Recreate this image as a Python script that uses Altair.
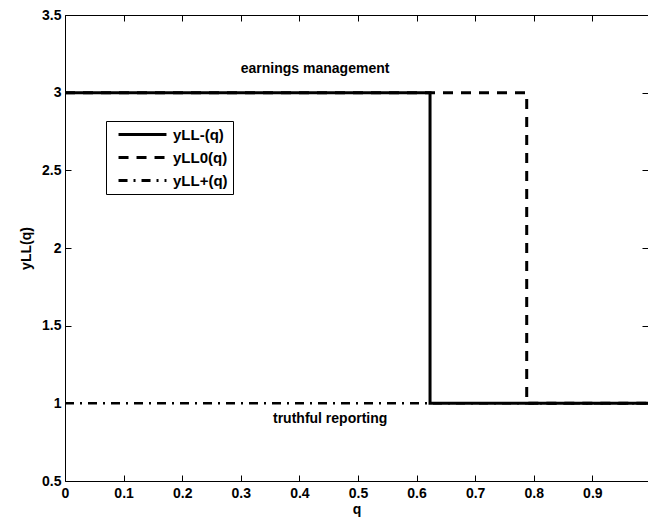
import altair as alt
import pandas as pd

# ---- data ----
series_names = ["yLL-(q)", "yLL0(q)", "yLL+(q)"]
q_minus = [0.0, 0.623, 0.623, 1.0]
y_minus = [3.0, 3.0, 1.0, 1.0]
q_zero = [0.0, 0.788, 0.788, 1.0]
y_zero = [3.0, 3.0, 1.0, 1.0]
q_plus = [0.0, 1.0]
y_plus = [1.0, 1.0]

ann_text = ["earnings management", "truthful reporting"]
ann_q = [0.3, 0.355]
ann_y = [3.15, 0.9]

x_ticks = [0, 0.1, 0.2, 0.3, 0.4, 0.5, 0.6, 0.7, 0.8, 0.9]
y_ticks = [0.5, 1, 1.5, 2, 2.5, 3, 3.5]

dash_styles = [[1, 0], [10, 8], [9, 6, 2, 6]]

# ---- layout ----
W, H = 583, 466
PAD = {"left": 65, "top": 15, "right": 0, "bottom": 36}
X_MAX = 0.995
FONT = "Liberation Sans"
TICK = 6


def frame(qs, ys, name):
    return pd.DataFrame({"q": qs, "y": ys, "series": name, "i": range(len(qs))})


df_minus = frame(q_minus, y_minus, series_names[0])
df_zero = frame(q_zero, y_zero, series_names[1])
df_plus = frame(q_plus, y_plus, series_names[2])
df_ann = pd.DataFrame({"q": ann_q, "y": ann_y, "label": ann_text})

x_scale = alt.Scale(domain=[0, X_MAX], nice=False, zero=False)
y_scale = alt.Scale(domain=[0.5, 3.5], nice=False, zero=False)

x_axis = alt.Axis(
    orient="bottom", values=x_ticks, format="~g", title="q",
    domain=True, domainColor="black", domainWidth=1,
    ticks=False, grid=True, gridColor="black", gridWidth=1, gridOpacity=1,
    gridDash=[TICK, H - 2 * TICK, TICK, 3000],
    labelFont=FONT, labelFontSize=14, labelFontWeight="bold", labelColor="black",
    labelPadding=5, labelFlush=False,
    titleFont=FONT, titleFontSize=14, titleFontWeight="bold", titleColor="black",
    titlePadding=2,
)
y_axis = alt.Axis(
    orient="left", values=y_ticks, format="~g", title="yLL(q)",
    domain=True, domainColor="black", domainWidth=1,
    ticks=False, grid=True, gridColor="black", gridWidth=1, gridOpacity=1,
    gridDash=[TICK, W - 2 * TICK, TICK, 3000],
    labelFont=FONT, labelFontSize=14, labelFontWeight="bold", labelColor="black",
    labelPadding=4, labelFlush=False,
    titleFont=FONT, titleFontSize=14, titleFontWeight="bold", titleColor="black",
    titlePadding=8,
)
top_axis = alt.Axis(
    orient="top", domain=True, domainColor="black", domainWidth=1,
    ticks=False, labels=False, grid=False, title=None,
)

dash = alt.StrokeDash(
    "series:N",
    scale=alt.Scale(domain=series_names, range=dash_styles),
    legend=alt.Legend(
        title=None, orient="none", legendX=41, legendY=106,
        strokeColor="black", fillColor="white", padding=5, cornerRadius=0,
        symbolType="M-0.14,0H6.71", symbolSize=196, symbolStrokeWidth=3,
        symbolStrokeColor="black",
        labelFont=FONT, labelFontSize=15, labelFontWeight="bold", labelColor="black",
        rowPadding=6, labelOffset=45,
    ),
)


def line_layer(df, width):
    return alt.Chart(df).mark_line(
        color="black", strokeWidth=width, clip=True, strokeCap="butt"
    ).encode(
        x=alt.X("q:Q", scale=x_scale, axis=x_axis),
        y=alt.Y("y:Q", scale=y_scale, axis=y_axis),
        strokeDash=dash,
        order="i:Q",
    )


lines = line_layer(df_plus, 2.5) + line_layer(df_zero, 3) + line_layer(df_minus, 3)

texts = alt.Chart(df_ann).mark_text(
    font=FONT, fontSize=14, fontWeight="bold", color="black",
    align="left", baseline="middle",
).encode(
    x=alt.X("q:Q", scale=x_scale, axis=top_axis),
    y=alt.Y("y:Q", scale=y_scale, axis=y_axis),
    text="label:N",
)

chart = alt.layer(lines, texts).resolve_axis(x="independent").properties(
    width=W, height=H,
    autosize=alt.AutoSizeParams(type="none"),
    padding=PAD,
    background="white",
).configure_view(stroke="transparent")

chart.save("out.html", embed_options={"renderer": "svg", "actions": False})
